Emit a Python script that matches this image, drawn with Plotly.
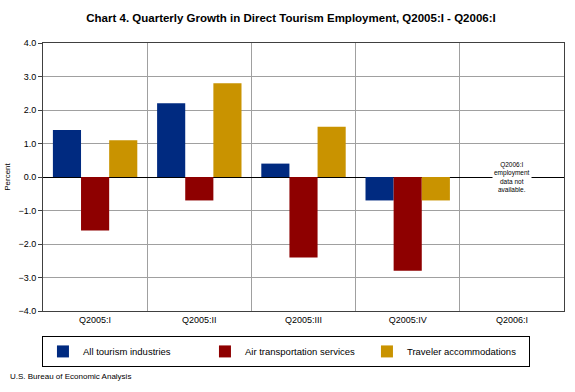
import plotly.graph_objects as go

categories = ["Q2005:I", "Q2005:II", "Q2005:III", "Q2005:IV", "Q2006:I"]
all_tourism = [1.4, 2.2, 0.4, -0.7, None]
air_transport = [-1.6, -0.7, -2.4, -2.8, None]
traveler_accom = [1.1, 2.8, 1.5, -0.7, None]
series_names = ["All tourism industries", "Air transportation services", "Traveler accommodations"]
colors = ["#002A80", "#8E0000", "#C99300"]
tick_vals = [-4, -3, -2, -1, 0, 1, 2, 3, 4]

fig = go.Figure()
for name, vals, c in zip(series_names, [all_tourism, air_transport, traveler_accom], colors):
    fig.add_trace(go.Bar(x=categories, y=vals, name=name, marker=dict(color=c, line=dict(width=0))))

font = "Liberation Sans, Arial, sans-serif"
fig.update_layout(
    width=575, height=392,
    barmode="group", bargap=0.19, bargroupgap=0,
    plot_bgcolor="white", paper_bgcolor="white",
    margin=dict(l=43, r=11, t=43, b=81),
    font=dict(family=font, size=9, color="black"),
    title=dict(text="<b>Chart 4. Quarterly Growth in Direct Tourism Employment, Q2005:I - Q2006:I</b>",
               x=291 / 575, xanchor="center", y=0.954, yanchor="middle",
               font=dict(size=11.5, family=font)),
    xaxis=dict(type="category", tickson="boundaries", showgrid=True, gridcolor="#a0a0a0",
               gridwidth=1, ticks="", showline=True, linecolor="#404040", mirror=True,
               tickfont=dict(size=9), automargin=False),
    yaxis=dict(range=[-4, 4], tickvals=tick_vals, tickformat=".1f", showgrid=True,
               gridcolor="#a0a0a0", zeroline=True, zerolinecolor="black", zerolinewidth=1,
               showline=True, linecolor="#404040", mirror=True, ticks="outside", ticklen=4,
               tickcolor="#404040", automargin=False,
               title=dict(text="Percent", font=dict(size=8), standoff=6)),
    legend=dict(orientation="h", x=-0.002, xanchor="left", y=-0.093, yanchor="top",
                bordercolor="black", borderwidth=1, bgcolor="white",
                entrywidth=117, entrywidthmode="pixels",
                font=dict(size=9.5), itemwidth=30, traceorder="normal"),
    annotations=[
        dict(text="Q2006:I<br>employment<br>data not<br>available.", x=4, y=0, xref="x", yref="y",
             showarrow=False, font=dict(size=6.5), bgcolor="white", align="center"),
        dict(text="U.S. Bureau of Economic Analysis", xref="paper", yref="paper",
             x=(8 - 43) / 521, y=-(376 - 311) / 268, showarrow=False, font=dict(size=8),
             xanchor="left", yanchor="middle"),
    ],
)
fig.write_html("out.html", config={"displayModeBar": False},
               post_script="document.body.style.margin='0';")
